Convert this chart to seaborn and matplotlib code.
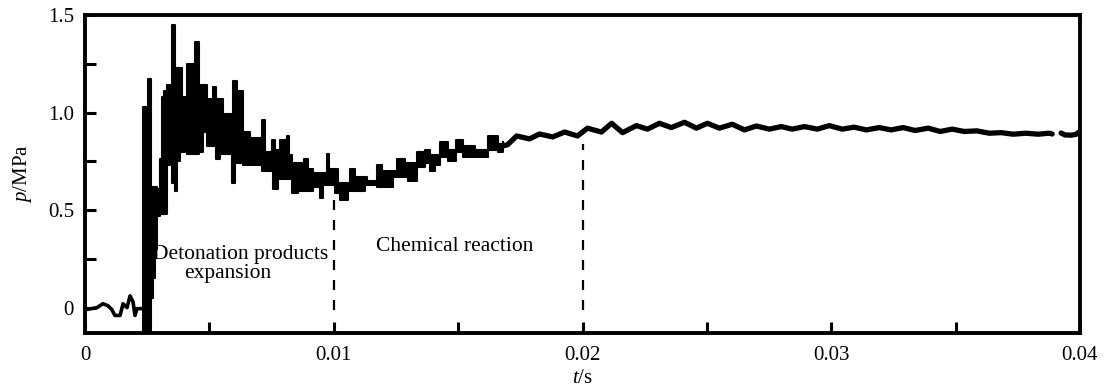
import numpy as np
import pandas as pd
import matplotlib
matplotlib.use("Agg")
import matplotlib.pyplot as plt
import seaborn as sns
from matplotlib.ticker import MultipleLocator, FixedLocator, FixedFormatter

# ---------------- data (t in s, p in MPa) ----------------
# pre-trigger baseline
pre_t = [0.00004, 0.00048, 0.00072, 0.00092, 0.00108, 0.00120, 0.00141, 0.00153,
         0.00169, 0.00181, 0.00193, 0.00201, 0.00209, 0.00233]
pre_p = [-0.01, 0.00, 0.02, 0.01, -0.01, -0.04, -0.04, 0.02,
         0.00, 0.06, 0.03, -0.04, -0.005, -0.005]

# noisy band after detonation: lower / upper envelope
band_t = [0.00233, 0.00253, 0.00265, 0.00273, 0.00281, 0.00289, 0.00301, 0.00309,
          0.00317, 0.00329, 0.00341, 0.00349, 0.00361, 0.00370, 0.00382, 0.00390,
          0.00410, 0.00442, 0.00458, 0.00474, 0.00490, 0.00514, 0.00526, 0.00542,
          0.00554, 0.00590, 0.00594, 0.00602, 0.00610, 0.00635, 0.00663, 0.00711,
          0.00723, 0.00751, 0.00755, 0.00763, 0.00775, 0.00783, 0.00811, 0.00819,
          0.00831, 0.00855, 0.00880, 0.00896, 0.00916, 0.00944, 0.00956, 0.00972,
          0.00980, 0.01004, 0.01016, 0.01024, 0.01044, 0.01056, 0.01064, 0.01084,
          0.01124, 0.01133, 0.01173, 0.01193, 0.01237, 0.01253, 0.01285, 0.01297,
          0.01333, 0.01365, 0.01386, 0.01406, 0.01426, 0.01458, 0.01490, 0.01518,
          0.01566, 0.01619, 0.01659, 0.01679]
band_lo = [-0.13, -0.13, 0.05, 0.15, 0.30, 0.47, 0.48, 0.48,
           0.48, 0.73, 0.75, 0.64, 0.60, 0.75, 0.80, 0.80,
           0.79, 0.79, 0.80, 0.90, 0.83, 0.83, 0.76, 0.79,
           0.79, 0.64, 0.64, 0.74, 0.74, 0.73, 0.73, 0.70,
           0.70, 0.70, 0.61, 0.61, 0.66, 0.66, 0.66, 0.66,
           0.59, 0.60, 0.60, 0.60, 0.62, 0.56, 0.63, 0.63,
           0.63, 0.59, 0.59, 0.55, 0.55, 0.60, 0.60, 0.60,
           0.63, 0.63, 0.62, 0.62, 0.67, 0.67, 0.67, 0.65,
           0.72, 0.74, 0.70, 0.73, 0.77, 0.75, 0.80, 0.77,
           0.77, 0.81, 0.80, 0.82]
band_hi = [1.03, 1.17, 0.62, 0.62, 0.62, 0.61, 0.76, 1.08,
           1.11, 1.14, 1.14, 1.45, 1.23, 1.23, 1.23, 1.08,
           1.25, 1.36, 1.14, 1.14, 1.07, 1.13, 1.07, 1.07,
           0.99, 0.99, 1.16, 1.16, 1.11, 0.90, 0.87, 0.96,
           0.80, 0.86, 0.86, 0.81, 0.81, 0.86, 0.88, 0.78,
           0.74, 0.74, 0.76, 0.71, 0.69, 0.69, 0.69, 0.79,
           0.71, 0.71, 0.64, 0.64, 0.64, 0.64, 0.71, 0.67,
           0.67, 0.65, 0.73, 0.70, 0.70, 0.76, 0.74, 0.74,
           0.80, 0.81, 0.78, 0.78, 0.85, 0.81, 0.86, 0.83,
           0.81, 0.88, 0.84, 0.85]

# oscillating trace (first segment)
wave1_t = [0.01667, 0.01699, 0.01735, 0.01787, 0.01827, 0.01880, 0.01928, 0.01980,
           0.02020, 0.02076, 0.02117, 0.02161, 0.02217, 0.02261, 0.02309, 0.02357,
           0.02410, 0.02458, 0.02502, 0.02550, 0.02602, 0.02651, 0.02699, 0.02751,
           0.02799, 0.02843, 0.02892, 0.02944, 0.02992, 0.03044, 0.03092, 0.03141,
           0.03193, 0.03241, 0.03289, 0.03337, 0.03390, 0.03438, 0.03486, 0.03534,
           0.03586, 0.03635, 0.03683, 0.03731, 0.03783, 0.03831, 0.03876, 0.03888]
wave1_p = [0.825, 0.835, 0.880, 0.865, 0.890, 0.875, 0.900, 0.880,
           0.920, 0.900, 0.945, 0.897, 0.933, 0.915, 0.945, 0.923,
           0.950, 0.920, 0.945, 0.920, 0.940, 0.911, 0.931, 0.915,
           0.928, 0.915, 0.928, 0.915, 0.933, 0.915, 0.925, 0.911,
           0.923, 0.911, 0.923, 0.908, 0.920, 0.903, 0.915, 0.903,
           0.906, 0.894, 0.897, 0.889, 0.894, 0.889, 0.894, 0.890]
# second segment after the short gap
wave2_t = [0.03924, 0.03940, 0.03964, 0.03984, 0.03996]
wave2_p = [0.895, 0.885, 0.884, 0.888, 0.900]

# phase-boundary markers
mark_t = [0.01, 0.02]
mark_top = [0.55, 0.84]

labels = ["Detonation products", "expansion", "Chemical reaction"]
label_t = [0.00627, 0.00574, 0.01486]
label_p = [0.25, 0.152, 0.29]

xticks = [0, 0.01, 0.02, 0.03, 0.04]
xtick_labels = ["0", "0.01", "0.02", "0.03", "0.04"]
yticks = [0, 0.5, 1.0, 1.5]
ytick_labels = ["0", "0.5", "1.0", "1.5"]

# ---------------- style ----------------
sns.set_theme(style="white")
plt.rcParams["font.family"] = ["Liberation Serif", "DejaVu Serif"]
plt.rcParams["mathtext.fontset"] = "custom"
plt.rcParams["mathtext.rm"] = "Liberation Serif"
plt.rcParams["mathtext.it"] = "Liberation Serif:italic"

fig = plt.figure(figsize=(11.2, 3.88), dpi=100)
ax = fig.add_axes([85 / 1120, 1 - 333 / 388, 995 / 1120, 318 / 388])

pre = pd.DataFrame({"t": pre_t, "p": pre_p})
w1 = pd.DataFrame({"t": wave1_t, "p": wave1_p})
w2 = pd.DataFrame({"t": wave2_t, "p": wave2_p})

sns.lineplot(data=pre, x="t", y="p", ax=ax, color="black", lw=2.6, sort=False,
             estimator=None)
ax.fill_between(band_t, band_lo, band_hi, step="post", color="black", lw=1.5,
                edgecolor="black")
sns.lineplot(data=w1, x="t", y="p", ax=ax, color="black", lw=3.8, sort=False,
             estimator=None)
sns.lineplot(data=w2, x="t", y="p", ax=ax, color="black", lw=3.8, sort=False,
             estimator=None)

ax.vlines(mark_t, -0.01, mark_top, colors="black", lw=1.6,
          linestyles=(0, (4.5, 4.5)))

for s, tx, py in zip(labels, label_t, label_p):
    ax.text(tx, py, s, ha="center", va="baseline", fontsize=15.5, color="black")

ax.set_xlim(0, 0.04)
ax.set_ylim(-0.13, 1.5)
ax.xaxis.set_major_locator(FixedLocator(xticks))
ax.xaxis.set_major_formatter(FixedFormatter(xtick_labels))
ax.xaxis.set_minor_locator(MultipleLocator(0.005))
ax.yaxis.set_major_locator(FixedLocator(yticks))
ax.yaxis.set_major_formatter(FixedFormatter(ytick_labels))
ax.yaxis.set_minor_locator(MultipleLocator(0.25))

ax.tick_params(which="both", direction="in", length=8, width=2.2,
               top=False, right=False, bottom=True, left=True,
               labelsize=15, colors="black")
ax.tick_params(axis="x", which="major", pad=9)
ax.tick_params(axis="y", which="major", pad=8)
for sp in ax.spines.values():
    sp.set_linewidth(2.8)
    sp.set_color("black")

ax.set_xlabel(r"$t$/s", fontsize=15, labelpad=3, color="black")
ax.set_ylabel(r"$p$/MPa", fontsize=15, labelpad=10, color="black")
ax.set_facecolor("white")
fig.patch.set_facecolor("white")

fig.savefig("out.png", dpi=100, facecolor="white")
